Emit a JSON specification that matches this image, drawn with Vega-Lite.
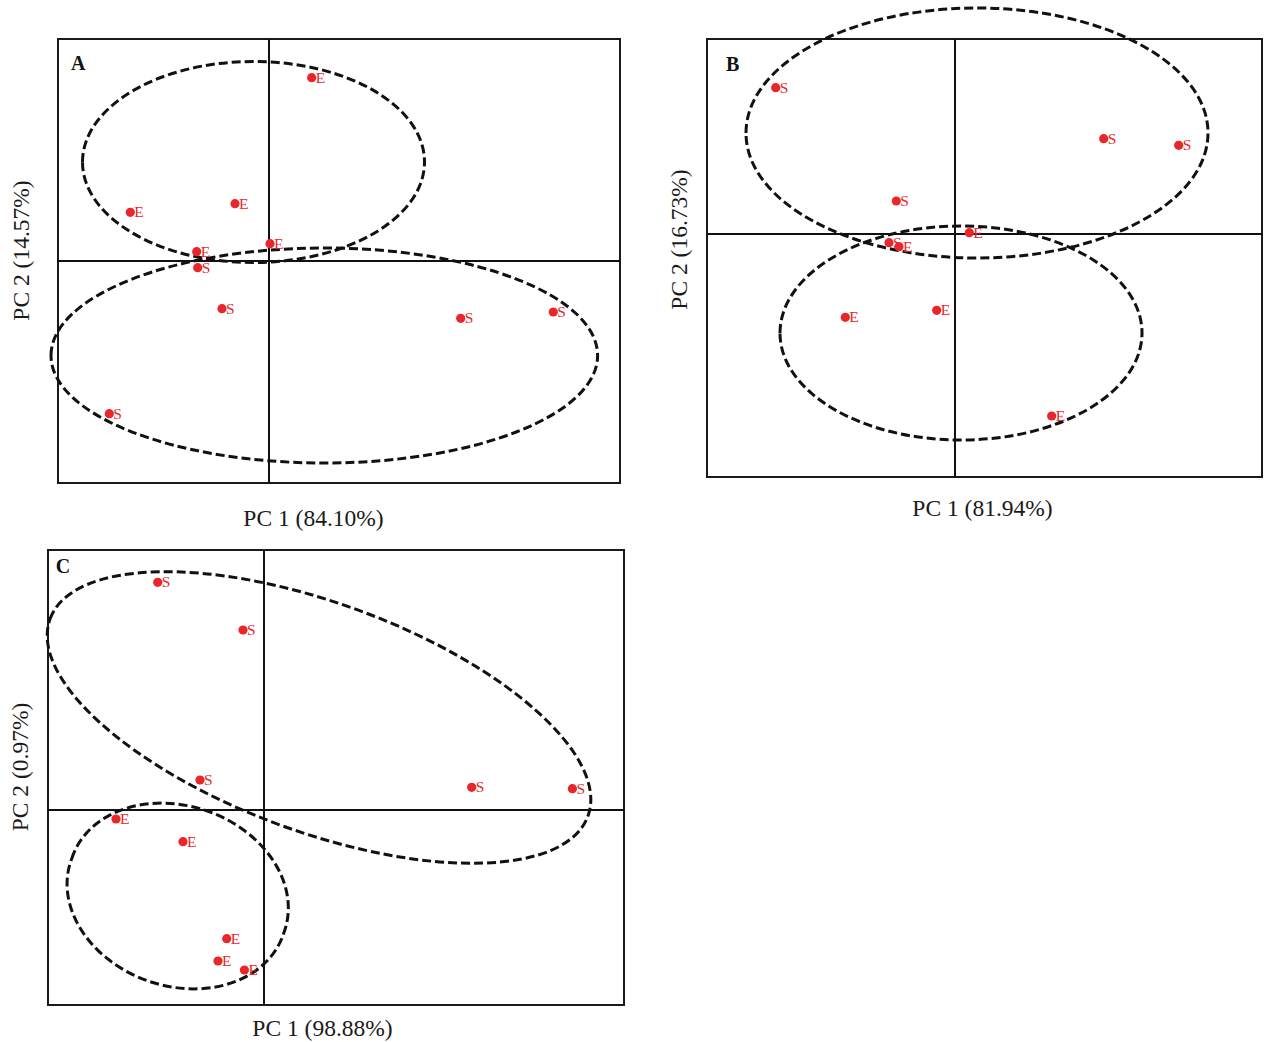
{
  "$schema": "https://vega.github.io/schema/vega-lite/v6.json",
  "background": "white",
  "padding": {"left": 7, "top": 0, "right": 0, "bottom": 0},
  "config": {
    "view": {"stroke": "#1a1a1a", "strokeWidth": 2},
    "font": "Liberation Serif",
    "axis": {"labels": false, "ticks": false, "domain": false, "grid": false, "titleFont": "Liberation Serif", "titleFontSize": 23.5, "titleFontWeight": "normal", "titleColor": "#1a1a1a"}
  },
  "spacing": 18,
  "vconcat": [
    {
      "spacing": 45,
      "hconcat": [
        {
          "width": 572, "height": 444,
          "view": {"stroke": null},
          "layer": [
            {
              "data": {"values": [{"pc1": 0, "pc2": 0}]},
              "layer": [
                {"mark": {"type": "rect", "fill": null, "fillOpacity": 0, "stroke": "#1a1a1a", "strokeWidth": 2}, "encoding": {"x": {"datum": -2.11, "type": "quantitative"}, "x2": {"datum": 3.51}, "y": {"datum": -2.22, "type": "quantitative"}, "y2": {"datum": 2.22}}},
                {"mark": {"type": "rule", "color": "#111", "strokeWidth": 2}, "encoding": {"x": {"field": "pc1", "type": "quantitative"}}},
                {"mark": {"type": "rule", "color": "#111", "strokeWidth": 2}, "encoding": {"y": {"field": "pc2", "type": "quantitative"}, "x": {"datum": -2.11, "type": "quantitative"}, "x2": {"datum": 3.51}}}
              ]
            },
            {
              "data": {"values": [{"pc1": -0.155, "pc2": 0.99}]},
              "mark": {"type": "point", "shape": "M -171 0 A 171 100.5 0 1 1 171 0 A 171 100.5 0 1 1 -171 0 Z", "size": 4, "filled": false, "stroke": "#111", "strokeWidth": 3, "strokeDash": [9, 4], "opacity": 1},
              "encoding": {"x": {"field": "pc1", "type": "quantitative"}, "y": {"field": "pc2", "type": "quantitative"}}
            },
            {
              "data": {"values": [{"pc1": 0.553, "pc2": -0.945}]},
              "mark": {"type": "point", "shape": "M -273.3 0 A 273.3 107.5 0 1 1 273.3 0 A 273.3 107.5 0 1 1 -273.3 0 Z", "size": 4, "filled": false, "stroke": "#111", "strokeWidth": 3, "strokeDash": [9, 4], "opacity": 1},
              "encoding": {"x": {"field": "pc1", "type": "quantitative"}, "y": {"field": "pc2", "type": "quantitative"}}
            },
            {
              "data": {"values": [
                {"pc1": 0.427, "pc2": 1.833, "group": "E"},
                {"pc1": -1.387, "pc2": 0.487, "group": "E"},
                {"pc1": -0.34, "pc2": 0.573, "group": "E"},
                {"pc1": 0.01, "pc2": 0.173, "group": "E"},
                {"pc1": -0.723, "pc2": 0.093, "group": "E"},
                {"pc1": -0.713, "pc2": -0.067, "group": "S"},
                {"pc1": -0.47, "pc2": -0.477, "group": "S"},
                {"pc1": -1.597, "pc2": -1.527, "group": "S"},
                {"pc1": 1.917, "pc2": -0.573, "group": "S"},
                {"pc1": 2.843, "pc2": -0.51, "group": "S"}
              ]},
              "layer": [
                {
                  "mark": {"type": "circle", "size": 85, "color": "#e8262b", "opacity": 1},
                  "encoding": {
                    "x": {"field": "pc1", "type": "quantitative", "scale": {"domain": [-2.21, 3.51], "nice": false, "zero": false}, "axis": {"title": "PC 1 (84.10%)", "titlePadding": 23, "titleX": 265}},
                    "y": {"field": "pc2", "type": "quantitative", "scale": {"domain": [-2.22, 2.22], "nice": false, "zero": false}, "axis": {"title": "PC 2 (14.57%)", "titlePadding": 15, "titleY": 211}}
                  }
                },
                {
                  "mark": {"type": "text", "font": "Liberation Serif", "fontSize": 15.5, "color": "#e8262b", "align": "left", "baseline": "middle", "dx": 4},
                  "encoding": {"x": {"field": "pc1", "type": "quantitative"}, "y": {"field": "pc2", "type": "quantitative"}, "text": {"field": "group"}}
                }
              ]
            },
            {
              "data": {"values": [{"pc1": -1.98, "pc2": 1.91, "panel": "A"}]},
              "mark": {"type": "text", "font": "Liberation Serif", "fontWeight": "bold", "fontSize": 20, "color": "#111", "align": "left", "baseline": "alphabetic"},
              "encoding": {"x": {"field": "pc1", "type": "quantitative"}, "y": {"field": "pc2", "type": "quantitative"}, "text": {"field": "panel"}}
            }
          ]
        },
        {
          "width": 555, "height": 438,
          "layer": [
            {
              "data": {"values": [{"pc1": 0, "pc2": 0}]},
              "layer": [
                {"mark": {"type": "rule", "color": "#111", "strokeWidth": 2}, "encoding": {"x": {"field": "pc1", "type": "quantitative"}}},
                {"mark": {"type": "rule", "color": "#111", "strokeWidth": 2}, "encoding": {"y": {"field": "pc2", "type": "quantitative"}}}
              ]
            },
            {
              "data": {"values": [{"pc1": 0.22, "pc2": 1.01}]},
              "mark": {"type": "point", "shape": "M -231 0 A 231 125 0 1 1 231 0 A 231 125 0 1 1 -231 0 Z", "size": 4, "filled": false, "stroke": "#111", "strokeWidth": 3, "strokeDash": [9, 4], "opacity": 1},
              "encoding": {"x": {"field": "pc1", "type": "quantitative"}, "y": {"field": "pc2", "type": "quantitative"}}
            },
            {
              "data": {"values": [{"pc1": 0.06, "pc2": -0.99}]},
              "mark": {"type": "point", "shape": "M -181 0 A 181 107 0 1 1 181 0 A 181 107 0 1 1 -181 0 Z", "size": 4, "filled": false, "stroke": "#111", "strokeWidth": 3, "strokeDash": [9, 4], "opacity": 1},
              "encoding": {"x": {"field": "pc1", "type": "quantitative"}, "y": {"field": "pc2", "type": "quantitative"}}
            },
            {
              "data": {"values": [
                {"pc1": -1.793, "pc2": 1.463, "group": "S"},
                {"pc1": -0.587, "pc2": 0.33, "group": "S"},
                {"pc1": 1.487, "pc2": 0.953, "group": "S"},
                {"pc1": 2.237, "pc2": 0.887, "group": "S"},
                {"pc1": 0.143, "pc2": 0.013, "group": "E"},
                {"pc1": -0.66, "pc2": -0.087, "group": "S"},
                {"pc1": -0.56, "pc2": -0.127, "group": "E"},
                {"pc1": -1.097, "pc2": -0.833, "group": "E"},
                {"pc1": -0.183, "pc2": -0.763, "group": "E"},
                {"pc1": 0.967, "pc2": -1.82, "group": "E"}
              ]},
              "layer": [
                {
                  "mark": {"type": "circle", "size": 85, "color": "#e8262b", "opacity": 1},
                  "encoding": {
                    "x": {"field": "pc1", "type": "quantitative", "scale": {"domain": [-2.48, 3.07], "nice": false, "zero": false}, "axis": {"title": "PC 1 (81.94%)", "titlePadding": 19, "titleX": 275}},
                    "y": {"field": "pc2", "type": "quantitative", "scale": {"domain": [-2.43, 1.95], "nice": false, "zero": false}, "axis": {"title": "PC 2 (16.73%)", "titlePadding": 16, "titleY": 200}}
                  }
                },
                {
                  "mark": {"type": "text", "font": "Liberation Serif", "fontSize": 15.5, "color": "#e8262b", "align": "left", "baseline": "middle", "dx": 4},
                  "encoding": {"x": {"field": "pc1", "type": "quantitative"}, "y": {"field": "pc2", "type": "quantitative"}, "text": {"field": "group"}}
                }
              ]
            },
            {
              "data": {"values": [{"pc1": -2.29, "pc2": 1.633, "panel": "B"}]},
              "mark": {"type": "text", "font": "Liberation Serif", "fontWeight": "bold", "fontSize": 20, "color": "#111", "align": "left", "baseline": "alphabetic"},
              "encoding": {"x": {"field": "pc1", "type": "quantitative"}, "y": {"field": "pc2", "type": "quantitative"}, "text": {"field": "panel"}}
            }
          ]
        }
      ]
    },
    {
      "hconcat": [
        {
          "width": 576, "height": 455,
          "layer": [
            {
              "data": {"values": [{"pc1": 0, "pc2": 0}]},
              "layer": [
                {"mark": {"type": "rule", "color": "#111", "strokeWidth": 2}, "encoding": {"x": {"field": "pc1", "type": "quantitative"}}},
                {"mark": {"type": "rule", "color": "#111", "strokeWidth": 2}, "encoding": {"y": {"field": "pc2", "type": "quantitative"}}}
              ]
            },
            {
              "data": {"values": [{"pc1": 0.55, "pc2": 0.925}]},
              "mark": {"type": "point", "shape": "M -268.9 -98.7 A 286.4 114.3 20.15 1 1 268.9 98.7 A 286.4 114.3 20.15 1 1 -268.9 -98.7 Z", "size": 4, "filled": false, "stroke": "#111", "strokeWidth": 3, "strokeDash": [9, 4], "opacity": 1},
              "encoding": {"x": {"field": "pc1", "type": "quantitative"}, "y": {"field": "pc2", "type": "quantitative"}}
            },
            {
              "data": {"values": [{"pc1": -0.863, "pc2": -0.86}]},
              "mark": {"type": "point", "shape": "M -106 -37.3 A 112.4 88 19.4 1 1 106 37.3 A 112.4 88 19.4 1 1 -106 -37.3 Z", "size": 4, "filled": false, "stroke": "#111", "strokeWidth": 3, "strokeDash": [9, 4], "opacity": 1},
              "encoding": {"x": {"field": "pc1", "type": "quantitative"}, "y": {"field": "pc2", "type": "quantitative"}}
            },
            {
              "data": {"values": [
                {"pc1": -1.063, "pc2": 2.277, "group": "S"},
                {"pc1": -0.21, "pc2": 1.8, "group": "S"},
                {"pc1": -0.64, "pc2": 0.3, "group": "S"},
                {"pc1": 2.077, "pc2": 0.227, "group": "S"},
                {"pc1": 3.084, "pc2": 0.213, "group": "S"},
                {"pc1": -1.48, "pc2": -0.09, "group": "E"},
                {"pc1": -0.81, "pc2": -0.317, "group": "E"},
                {"pc1": -0.373, "pc2": -1.287, "group": "E"},
                {"pc1": -0.46, "pc2": -1.51, "group": "E"},
                {"pc1": -0.196, "pc2": -1.6, "group": "E"}
              ]},
              "layer": [
                {
                  "mark": {"type": "circle", "size": 85, "color": "#e8262b", "opacity": 1},
                  "encoding": {
                    "x": {"field": "pc1", "type": "quantitative", "scale": {"domain": [-2.16, 3.6], "nice": false, "zero": false}, "axis": {"title": "PC 1 (98.88%)", "titlePadding": 11, "titleX": 274}},
                    "y": {"field": "pc2", "type": "quantitative", "scale": {"domain": [-1.95, 2.6], "nice": false, "zero": false}, "axis": {"title": "PC 2 (0.97%)", "titlePadding": 15.5, "titleY": 216.5}}
                  }
                },
                {
                  "mark": {"type": "text", "font": "Liberation Serif", "fontSize": 15.5, "color": "#e8262b", "align": "left", "baseline": "middle", "dx": 4},
                  "encoding": {"x": {"field": "pc1", "type": "quantitative"}, "y": {"field": "pc2", "type": "quantitative"}, "text": {"field": "group"}}
                }
              ]
            },
            {
              "data": {"values": [{"pc1": -2.083, "pc2": 2.37, "panel": "C"}]},
              "mark": {"type": "text", "font": "Liberation Serif", "fontWeight": "bold", "fontSize": 20, "color": "#111", "align": "left", "baseline": "alphabetic"},
              "encoding": {"x": {"field": "pc1", "type": "quantitative"}, "y": {"field": "pc2", "type": "quantitative"}, "text": {"field": "panel"}}
            }
          ]
        }
      ]
    }
  ]
}
